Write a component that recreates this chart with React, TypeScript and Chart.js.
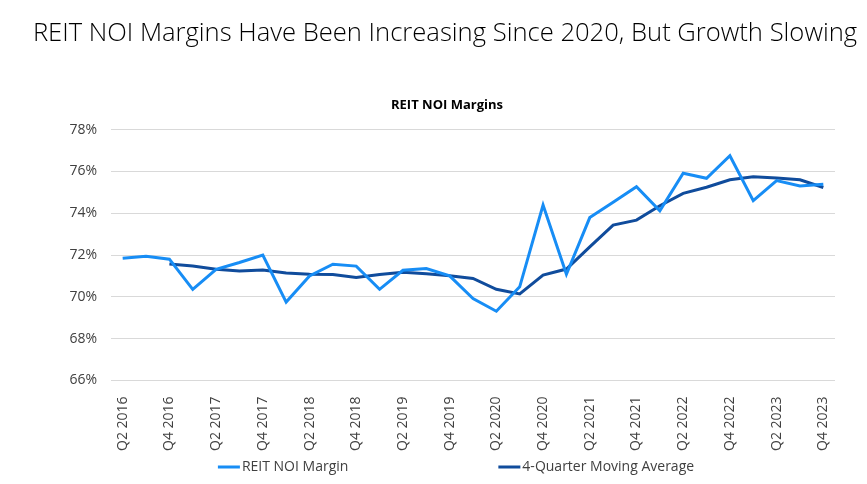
import React, { useEffect, useRef } from "react";
import { Chart, registerables } from "chart.js";

Chart.register(...registerables);

const quarters: string[] = [
  "Q2 2016", "Q3 2016", "Q4 2016", "Q1 2017", "Q2 2017", "Q3 2017", "Q4 2017",
  "Q1 2018", "Q2 2018", "Q3 2018", "Q4 2018", "Q1 2019", "Q2 2019", "Q3 2019",
  "Q4 2019", "Q1 2020", "Q2 2020", "Q3 2020", "Q4 2020", "Q1 2021", "Q2 2021",
  "Q3 2021", "Q4 2021", "Q1 2022", "Q2 2022", "Q3 2022", "Q4 2022", "Q1 2023",
  "Q2 2023", "Q3 2023", "Q4 2023",
];

const noiMargin: number[] = [
  71.85, 71.94, 71.8, 70.36, 71.32, 71.64, 72.0,
  69.75, 71.0, 71.56, 71.47, 70.36, 71.27, 71.35,
  71.0, 69.92, 69.31, 70.48, 74.39, 71.08, 73.79,
  74.52, 75.27, 74.12, 75.91, 75.67, 76.75, 74.6,
  75.56, 75.3, 75.38,
];

const movingAvg: (number | null)[] = [
  null, null, 71.57, 71.48, 71.32, 71.24, 71.28,
  71.14, 71.08, 71.07, 70.92, 71.07, 71.17, 71.1,
  71.01, 70.88, 70.36, 70.14, 71.04, 71.33, 72.39,
  73.43, 73.67, 74.36, 74.95, 75.24, 75.6, 75.74,
  75.69, 75.6, 75.23,
];

const yTicks: number[] = [66, 68, 70, 72, 74, 76, 78];

const mainTitle = "REIT NOI Margins Have Been Increasing Since 2020, But Growth Slowing";
const chartTitle = "REIT NOI Margins";
const seriesNames: string[] = ["REIT NOI Margin", "4-Quarter Moving Average"];

const LIGHT = "#178DF5";
const DARK = "#104C9C";
const FONT = "'Open Sans', 'Noto Sans', sans-serif";

const bottomLegend = {
  id: "bottomLegend",
  afterDraw(chart: any) {
    const ctx = chart.ctx as CanvasRenderingContext2D;
    const datasets = chart.data.datasets;
    const fontSize = 14;
    const sampleW = 22;
    const sampleGap = 2;
    const itemGap = 150;
    const centerX = 456;
    const y = 467;
    ctx.save();
    ctx.font = `${fontSize}px ${FONT}`;
    const widths = datasets.map((d: any) => sampleW + sampleGap + ctx.measureText(d.label).width);
    const total = widths.reduce((a: number, b: number) => a + b, 0) + itemGap * (datasets.length - 1);
    let x = centerX - total / 2;
    datasets.forEach((d: any, i: number) => {
      ctx.fillStyle = d.borderColor;
      ctx.fillRect(x, y - 1.5, sampleW, 3);
      ctx.fillStyle = "#404040";
      ctx.textBaseline = "middle";
      ctx.textAlign = "left";
      ctx.fillText(d.label, x + sampleW + sampleGap, y);
      x += widths[i] + itemGap;
    });
    ctx.restore();
  },
};

export default function App() {
  const canvasRef = useRef<HTMLCanvasElement | null>(null);

  useEffect(() => {
    document.body.style.margin = "0";
    const canvas = canvasRef.current;
    if (!canvas) return;
    const chart = new Chart(canvas, {
      type: "line",
      data: {
        labels: quarters,
        datasets: [
          {
            label: seriesNames[0],
            data: noiMargin,
            borderColor: LIGHT,
            backgroundColor: LIGHT,
            borderWidth: 3,
            pointRadius: 0,
            tension: 0,
          },
          {
            label: seriesNames[1],
            data: movingAvg,
            borderColor: DARK,
            backgroundColor: DARK,
            borderWidth: 3,
            pointRadius: 0,
            tension: 0,
          },
        ],
      },
      plugins: [bottomLegend],
      options: {
        animation: false,
        responsive: false,
        maintainAspectRatio: false,
        layout: { padding: { left: 59, right: 32, top: 97, bottom: 25 } },
        plugins: {
          title: {
            display: true,
            text: chartTitle,
            color: "#000000",
            font: { family: FONT, size: 13, weight: "bold" },
            padding: { top: 0, bottom: 17 },
          },
          legend: { display: false },
          tooltip: { enabled: false },
        },
        scales: {
          x: {
            offset: true,
            grid: { display: false },
            border: { display: false },
            ticks: {
              autoSkip: false,
              maxRotation: 90,
              minRotation: 90,
              color: "#404040",
              font: { family: FONT, size: 14 },
              padding: 8,
              callback: (_v: any, i: number) => (i % 2 === 0 ? quarters[i] : ""),
            },
          },
          y: {
            min: 66,
            max: 78,
            afterFit: (scale: any) => {
              scale.width = 52;
            },
            afterBuildTicks: (scale: any) => {
              scale.ticks = yTicks.map((v) => ({ value: v }));
            },
            grid: { color: "#D9D9D9", lineWidth: 1, drawTicks: false },
            border: { display: false },
            ticks: {
              autoSkip: false,
              color: "#404040",
              font: { family: FONT, size: 14 },
              padding: 14,
              callback: (v: any) => `${v}%`,
            },
          },
        },
      },
    });
    return () => chart.destroy();
  }, []);

  return (
    <div style={{ position: "fixed", left: 0, top: 0, width: 867, height: 484, background: "#fff" }}>
      <canvas ref={canvasRef} width={867} height={484} style={{ position: "absolute", left: 0, top: 0 }} />
      <div
        style={{
          position: "absolute",
          left: 0,
          top: 15,
          width: 890,
          textAlign: "center",
          fontFamily: FONT,
          fontWeight: 300,
          fontSize: 25.6,
          color: "#000",
          whiteSpace: "nowrap",
          lineHeight: "34px",
        }}
      >
        {mainTitle}
      </div>
    </div>
  );
}
